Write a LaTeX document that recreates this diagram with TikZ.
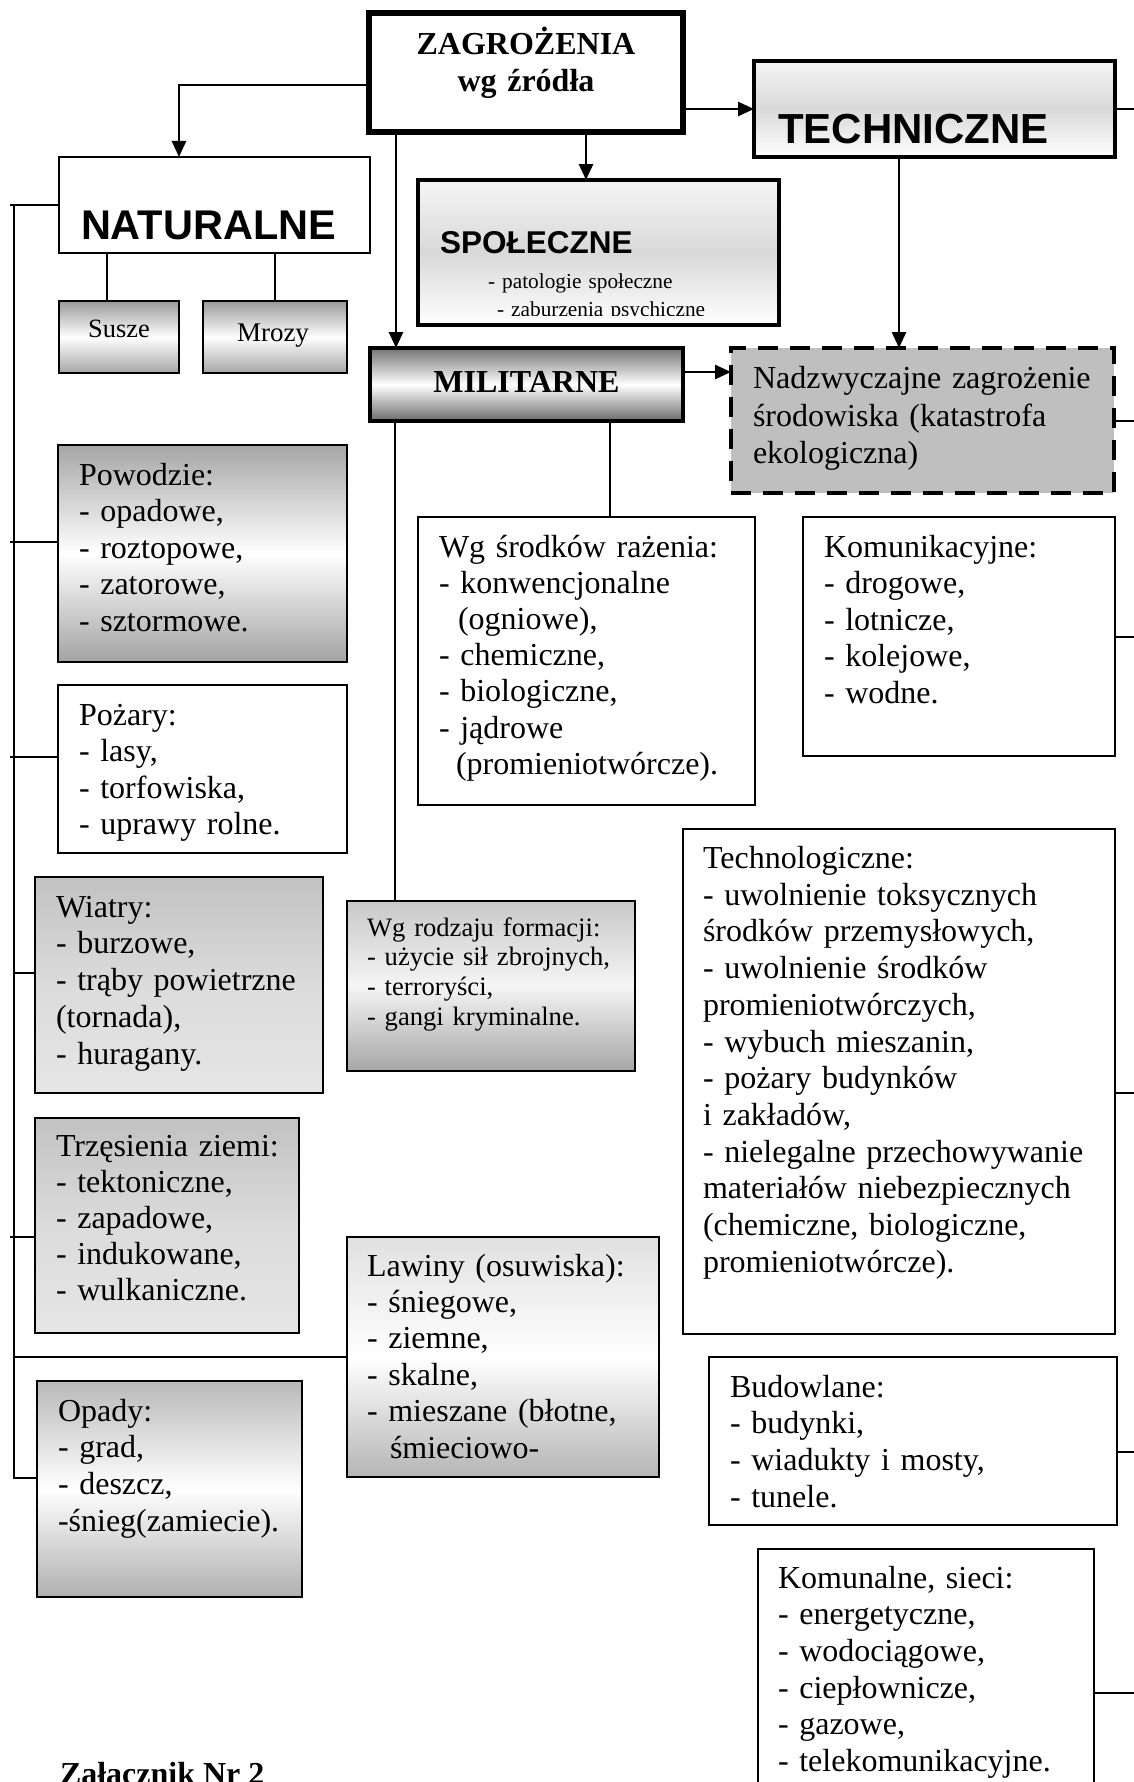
\documentclass[tikz,border=0pt]{standalone}
\usepackage{fontspec}
\setmainfont{Liberation Serif}
\newfontfamily\headsans{Liberation Sans}
\usetikzlibrary{arrows.meta,calc,fit}

\begin{document}
\begin{tikzpicture}[x=0.5pt,y=-0.5pt,
  line/.style={line width=1pt},
  arr/.style={line width=1.3pt,-{Triangle[width=7pt,length=8pt]}},
  frame/.style={draw,line width=1pt,inner sep=0pt,outer sep=0pt},
  body/.style={anchor=base west,inner sep=0pt,outer sep=0pt,align=left,text width=240pt,
    font=\fontsize{16pt}{18.25pt}\selectfont},
  small/.style={body,font=\fontsize{13.3pt}{14.9pt}\selectfont},
  head/.style={anchor=base west,inner sep=0pt,outer sep=0pt},
  silver/.style={top color=gray!80,bottom color=gray!70,middle color=white},
  metal/.style={top color=black!55,bottom color=black!58,middle color=white},
  pale/.style={top color=gray!8,bottom color=white,middle color=gray!30},
  dusk/.style={top color=gray!48,bottom color=gray!20,middle color=gray!28},
  misty/.style={top color=gray!43,bottom color=gray!70,middle color=gray!8},
  fog/.style={top color=gray!24,bottom color=gray!58,middle color=white},
  rain/.style={top color=gray!55,bottom color=gray!62,middle color=white}
]
\useasboundingbox (0,0) rectangle (1134,1782);
\clip (0,0) rectangle (1134,1782);
\fill[white] (0,0) rectangle (1134,1782);

% ---------- main categories ----------
\node[frame,fit={(369,13) (683,132)},line width=2.9pt,fill=white] (zag) {};
\node[anchor=base,inner sep=0pt,align=center,text width=200pt,
      font=\bfseries\fontsize{16pt}{18.5pt}\selectfont] (zagT) at (526,55)
      {ZAGROŻENIA\\wg źródła};

\node[frame,fit={(59,157) (370,253)},fill=white] (nat) {};
\node[head,font=\headsans\bfseries\fontsize{20.75pt}{24pt}\selectfont] (natT) at (81,239) {NATURALNE};

\node[frame,fit={(754,61) (1115,157)},line width=1.85pt,pale] (tech) {};
\node[head,font=\headsans\bfseries\fontsize{21pt}{24pt}\selectfont] (techT) at (778,143) {TECHNICZNE};

\node[frame,fit={(418,180) (779,325)},line width=2pt,pale] (spol) {};
\node[head,font=\headsans\bfseries\fontsize{15.75pt}{18pt}\selectfont] (spolT) at (440,253) {SPOŁECZNE};
\begin{scope}
  \clip ($(spol.north west)+(2,2)$) rectangle ($(spol.south east)+(-2,-10)$);
  \node[body,font=\fontsize{10.65pt}{14pt}\selectfont] (spolL) at (488,288)
    {- patologie społeczne\\\hspace*{4.5pt}- zaburzenia psychiczne};
\end{scope}

\node[frame,fit={(370,348) (683,421)},line width=2pt,metal] (mil) {};
\node[anchor=base,inner sep=0pt,font=\bfseries\fontsize{16pt}{18pt}\selectfont] (milT) at (526.5,392) {MILITARNE};

\node[frame,fit={(731,348) (1114,493)},line width=2pt,fill=gray!50,
      dash pattern=on 10pt off 6pt] (nadz) {};
\node[body,font=\fontsize{16pt}{18.75pt}\selectfont] (nadzT) at (753,388.5)
  {Nadzwyczajne zagrożenie\\środowiska (katastrofa\\ekologiczna)};

% ---------- natural hazards ----------
\node[frame,fit={(59,301) (179,373)},silver] (susze) {};
\node[anchor=base,inner sep=0pt,font=\fontsize{13.2pt}{15pt}\selectfont] (suszeT) at (119,337) {Susze};
\node[frame,fit={(203,301) (347,373)},silver] (mrozy) {};
\node[anchor=base,inner sep=0pt,font=\fontsize{13.5pt}{15pt}\selectfont] (mrozyT) at (273,341) {Mrozy};

\node[frame,fit={(58,445) (347,662)},top color=gray!70,bottom color=gray!72,middle color=white] (pow) {};
\node[body] (powT) at (79,485) {Powodzie:\\- opadowe,\\- roztopowe,\\- zatorowe,\\- sztormowe.};

\node[frame,fit={(58,685) (347,853)},fill=white] (poz) {};
\node[body] (pozT) at (79,725) {Pożary:\\- lasy,\\- torfowiska,\\- uprawy rolne.};

\node[frame,fit={(35,877) (323,1093)},dusk] (wiatry) {};
\node[body,font=\fontsize{16pt}{18.4pt}\selectfont] (wiatryT) at (56,917)
  {Wiatry:\\- burzowe,\\- trąby powietrzne\\(tornada),\\- huragany.};

\node[frame,fit={(35,1118) (299,1333)},dusk] (trz) {};
\node[body,font=\fontsize{16pt}{18.1pt}\selectfont] (trzT) at (56,1156)
  {Trzęsienia ziemi:\\- tektoniczne,\\- zapadowe,\\- indukowane,\\- wulkaniczne.};

\node[frame,fit={(37,1381) (302,1597)},rain] (opady) {};
\node[body,font=\fontsize{16pt}{18.4pt}\selectfont] (opadyT) at (58,1421)
  {Opady:\\- grad,\\- deszcz,\\-śnieg(zamiecie).};

\node[frame,fit={(347,1237) (659,1477)},fog] (lawiny) {};
\node[body,font=\fontsize{16pt}{18.2pt}\selectfont] (lawinyT) at (367,1276)
  {Lawiny (osuwiska):\\- śniegowe,\\- ziemne,\\- skalne,\\- mieszane (błotne,\\\hspace*{11.5pt}śmieciowo-};

% ---------- military hazards ----------
\node[frame,fit={(418,517) (755,805)},fill=white] (srod) {};
\node[body,font=\fontsize{16pt}{18.05pt}\selectfont] (srodT) at (439,557.5)
  {Wg środków rażenia:\\- konwencjonalne\\\hspace*{9.5pt}(ogniowe),\\- chemiczne,\\- biologiczne,\\- jądrowe\\\hspace*{8.5pt}(promieniotwórcze).};

\node[frame,fit={(347,901) (635,1071)},misty] (form) {};
\node[small] (formT) at (367,936)
  {Wg rodzaju formacji:\\- użycie sił zbrojnych,\\- terroryści,\\- gangi kryminalne.};

% ---------- technical hazards ----------
\node[frame,fit={(803,517) (1115,756)},fill=white] (kom) {};
\node[body] (komT) at (824,557)
  {Komunikacyjne:\\- drogowe,\\- lotnicze,\\- kolejowe,\\- wodne.};

\node[frame,fit={(683,829) (1115,1334)},fill=white] (techn) {};
\node[body,font=\fontsize{16pt}{18.35pt}\selectfont] (technT) at (703,868.5)
  {Technologiczne:\\- uwolnienie toksycznych\\środków przemysłowych,\\- uwolnienie środków\\promieniotwórczych,\\- wybuch mieszanin,\\- pożary budynków\\i zakładów,\\- nielegalne przechowywanie\\materiałów niebezpiecznych\\(chemiczne, biologiczne,\\promieniotwórcze).};

\node[frame,fit={(709,1357) (1117,1525)},fill=white] (bud) {};
\node[body,font=\fontsize{16pt}{18.35pt}\selectfont] (budT) at (730,1397)
  {Budowlane:\\- budynki,\\- wiadukty i mosty,\\- tunele.};

\node[frame,fit={(758,1549) (1094,1810)},fill=white] (komun) {};
\node[body,font=\fontsize{16pt}{18.35pt}\selectfont] (komunT) at (778,1588)
  {Komunalne, sieci:\\- energetyczne,\\- wodociągowe,\\- ciepłownicze,\\- gazowe,\\- telekomunikacyjne.};

\node[head,font=\bfseries\fontsize{16pt}{18pt}\selectfont] (zal) at (60,1784) {Załącznik Nr 2};

% ---------- arrows from the root ----------
\draw[arr] ($(zag.north west)+(0,72)$) -| ($(nat.north west)+(120,0)$);
\draw[arr] ($(zag.south west)+(217,0)$) coordinate (zs) -- (zs |- spol.north);
\draw[arr] ($(zag.south west)+(27,0)$) coordinate (zm) -- (zm |- mil.north);
\draw[arr] (tech.west -| zag.east) -- (tech.west);
\draw[arr] ($(tech.south west)+(145,0)$) coordinate (tn) -- (tn |- nadz.north);
\draw[arr] ($(mil.north east)+(0,24)$) coordinate (mn) -- (mn -| nadz.west);

% ---------- plain connectors ----------
\draw[line] ($(nat.south west)+(48,0)$) coordinate (ns) -- (ns |- susze.north);
\draw[line] ($(nat.south west)+(216,0)$) coordinate (nm) -- (nm |- mrozy.north);
\draw[line] ($(mil.south west)+(25,0)$) coordinate (mf) -- (mf |- form.north);
\draw[line] ($(mil.south west)+(240,0)$) coordinate (ms) -- (ms |- srod.north);

% left trunk of natural hazards
\coordinate (trunkTop) at (14,205);
\coordinate (trunkBot) at (14,1478);
\draw[line] (nat.west) -- ++(-49,0);
\draw[line] (trunkTop) -- (trunkBot) -- (trunkBot -| opady.west);
\draw[line] ($(pow.north west)+(0,97)$) -- ++(-48,0);
\draw[line] ($(poz.north west)+(0,72)$) -- ++(-48,0);
\draw[line] ($(wiatry.north west)+(0,96)$) -- ++(-21,0);
\draw[line] ($(trz.north west)+(0,119)$) -- ++(-25,0);
\draw[line] (lawiny.west) -- (lawiny.west -| trunkTop);

% right-hand links running off the sheet
\coordinate (edgeR) at (1134,0);
\draw[line] (tech.east) -- (tech.east -| edgeR);
\draw[line] (nadz.east) -- (nadz.east -| edgeR);
\draw[line] (kom.east) -- (kom.east -| edgeR);
\draw[line] ($(techn.north east)+(0,264)$) coordinate (tr) -- (tr -| edgeR);
\draw[line] ($(bud.north east)+(0,95)$) coordinate (br) -- (br -| edgeR);
\draw[line] ($(komun.north east)+(0,144)$) coordinate (kr) -- (kr -| edgeR);
\end{tikzpicture}
\end{document}
